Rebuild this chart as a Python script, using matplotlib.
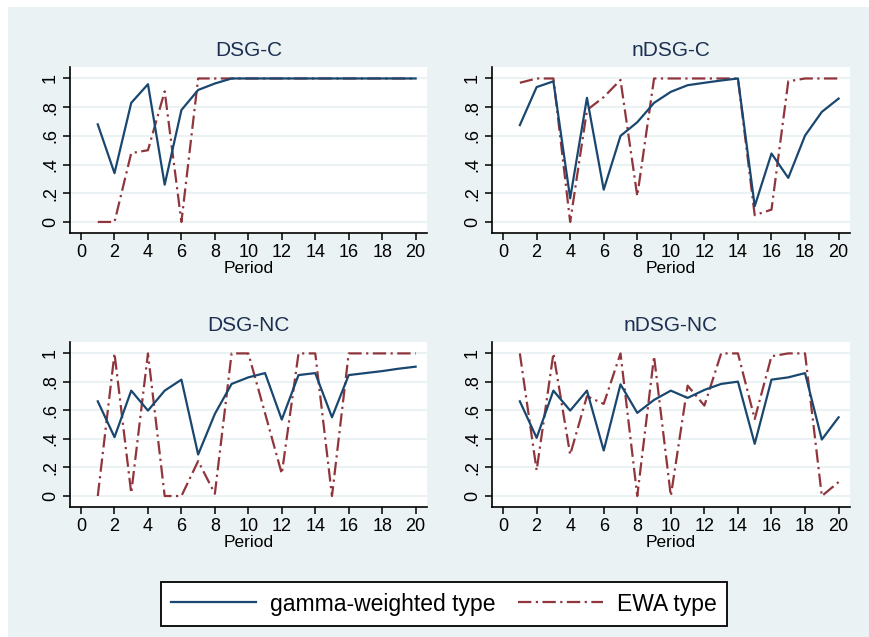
import numpy as np
import matplotlib
matplotlib.use('Agg')
import matplotlib.pyplot as plt
from matplotlib.patches import Rectangle

plt.rcParams['font.family'] = ['Liberation Sans', 'DejaVu Sans']

period = list(range(1, 21))

# DSG-C
dsgc_gamma = [0.68, 0.34, 0.83, 0.96, 0.26, 0.78, 0.92, 0.965, 1.0, 1.0,
              1.0, 1.0, 1.0, 1.0, 1.0, 1.0, 1.0, 1.0, 1.0, 1.0]
dsgc_ewa = [0.0, 0.0, 0.48, 0.5, 0.91, 0.0, 1.0, 1.0, 1.0, 1.0,
            1.0, 1.0, 1.0, 1.0, 1.0, 1.0, 1.0, 1.0, 1.0, 1.0]

# nDSG-C
ndsgc_gamma = [0.675, 0.94, 0.98, 0.165, 0.865, 0.225, 0.6, 0.695, 0.83, 0.907,
               0.953, 0.97, 0.986, 1.0, 0.11, 0.477, 0.307, 0.602, 0.767, 0.86]
ndsgc_ewa = [0.97, 1.0, 1.0, 0.0, 0.78, 0.87, 0.99, 0.18, 1.0, 1.0,
             1.0, 1.0, 1.0, 1.0, 0.047, 0.086, 0.98, 1.0, 1.0, 1.0]

# DSG-NC
dsgnc_gamma = [0.664, 0.413, 0.739, 0.599, 0.739, 0.816, 0.291, 0.576, 0.786, 0.832,
               0.862, 0.536, 0.848, 0.862, 0.552, 0.848, 0.862, 0.876, 0.893, 0.907]
dsgnc_ewa = [0.0, 1.0, 0.02, 1.0, 0.0, 0.0, 0.245, 0.016, 1.0, 1.0,
             0.58, 0.156, 1.0, 1.0, 0.0, 1.0, 1.0, 1.0, 1.0, 1.0]

# nDSG-NC
ndsgnc_gamma = [0.664, 0.408, 0.739, 0.599, 0.739, 0.319, 0.783, 0.583, 0.674, 0.739,
                0.688, 0.744, 0.786, 0.802, 0.366, 0.816, 0.832, 0.862, 0.396, 0.552]
ndsgnc_ewa = [1.0, 0.18, 1.0, 0.29, 0.7, 0.646, 1.0, 0.0, 0.98, 0.0,
              0.774, 0.634, 1.0, 1.0, 0.54, 0.98, 1.0, 1.0, 0.0, 0.098]

titles = ['DSG-C', 'nDSG-C', 'DSG-NC', 'nDSG-NC']
gamma_series = [dsgc_gamma, ndsgc_gamma, dsgnc_gamma, ndsgnc_gamma]
ewa_series = [dsgc_ewa, ndsgc_ewa, dsgnc_ewa, ndsgnc_ewa]

ytick_vals = [0, 0.2, 0.4, 0.6, 0.8, 1.0]
ytick_labels = ['0', '.2', '.4', '.6', '.8', '1']
xtick_vals = list(range(0, 21, 2))

bg = '#eaf2f3'
navy = '#1a476f'
maroon = '#90353b'
title_col = '#1c2f52'

W, H = 870, 637
fig = plt.figure(figsize=(W / 100, H / 100), dpi=100, facecolor='white')
fig.patches.append(Rectangle((8 / W, 0), 1, 1 - 7 / H, transform=fig.transFigure,
                             facecolor=bg, edgecolor='none', zorder=-10))

# pixel boxes: left, top, right, bottom
boxes = [(70, 67, 427, 233), (492, 67, 850, 233),
         (70, 342, 427, 507), (492, 342, 850, 507)]

lines = []
for i in range(4):
    l, t, r, b = boxes[i]
    ax = fig.add_axes([l / W, 1 - b / H, (r - l) / W, (b - t) / H])
    ax.set_facecolor('white')
    g, = ax.plot(period, gamma_series[i], color=navy, lw=1.6, zorder=3)
    e, = ax.plot(period, ewa_series[i], color=maroon, lw=1.6,
                 linestyle=(0, (6, 2, 1, 2)), zorder=2)
    lines = [g, e]
    ax.set_xlim(-0.66, 20.68)
    ax.set_ylim(-0.077, 1.08)
    ax.set_xticks(xtick_vals)
    ax.set_yticks(ytick_vals)
    ax.set_yticklabels(ytick_labels, rotation=90, va='center')
    ax.grid(axis='y', color=bg, lw=1.5, zorder=0)
    ax.set_axisbelow(True)
    for s in ['top', 'right']:
        ax.spines[s].set_visible(False)
    for s in ['left', 'bottom']:
        ax.spines[s].set_linewidth(1.2)
        ax.spines[s].set_color('black')
    ax.tick_params(axis='both', length=5, width=1.1, labelsize=13, pad=3)
    ax.set_xlabel('Period', fontsize=12.5, labelpad=0)
    ax.set_title(titles[i], fontsize=15, color=title_col, pad=8)

fig.legend(lines, ['gamma-weighted type', 'EWA type'], ncol=2,
           loc='center', bbox_to_anchor=(444 / W, 1 - 604 / H),
           fontsize=16.5, frameon=True, fancybox=False, edgecolor='black',
           handlelength=3.7, handletextpad=0.6, columnspacing=1.0,
           borderpad=0.45, borderaxespad=0, framealpha=1)
fig.legends[0].get_frame().set_linewidth(1.3)

fig.savefig('out.png', dpi=100, facecolor=fig.get_facecolor())
